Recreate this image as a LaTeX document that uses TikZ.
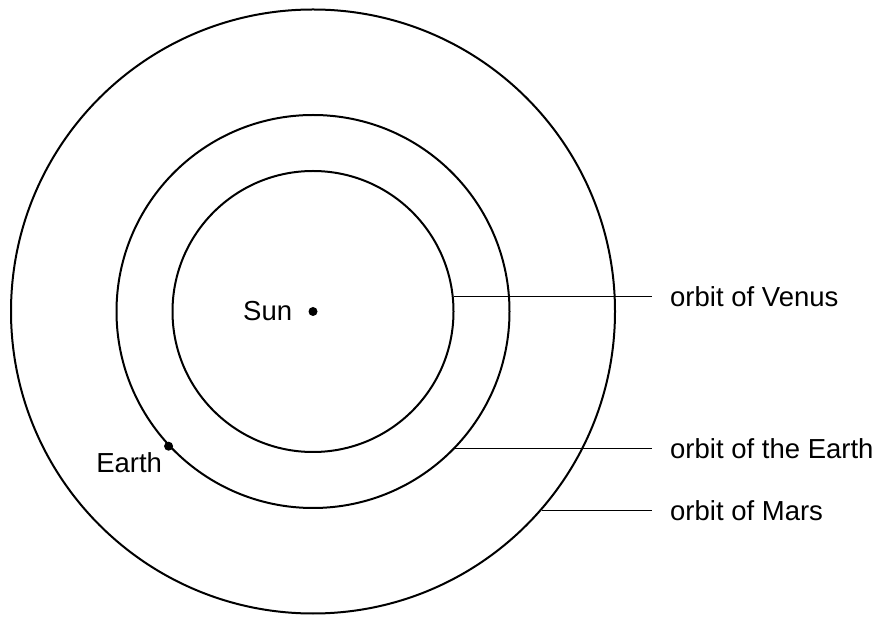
\documentclass[tikz,border=0pt]{standalone}
\usepackage{fontspec}
\setmainfont{Liberation Sans}
\usetikzlibrary{positioning}

\begin{document}
\begin{tikzpicture}[x=1pt, y=1pt,
                orbit/.style={circle, draw, line width=2pt, inner sep=0pt},
                dot/.style={circle, fill, inner sep=0pt, minimum size=9pt},
                txt/.style={inner sep=0pt, font=\fontsize{27.5}{32}\selectfont},
                lbl/.style={anchor=west, inner xsep=18pt, inner ysep=0pt, font=\fontsize{27.5}{32}\selectfont},
                leader/.style={line width=1.1pt}
            ]
            \useasboundingbox (0,0) rectangle (889,616);

            % Sun
            \node[dot] (sun) at (313, 304.5) {};
            \node[txt, left=16pt of sun] (sunlbl) {Sun};

            % Orbits
            \node[orbit, minimum size=281pt] (venus) at (sun) {};
            \node[orbit, minimum size=393pt] (earth) at (sun) {};
            \node[orbit, minimum size=604pt] (mars) at (sun) {};

            % Earth
            \node[dot] (edot) at (earth.223) {};
            \node[txt, below left=3pt and 3pt of edot] (elbl) {Earth};

            % Labels
            \node[lbl] (vlbl) at (venus.6.3 -| 652,0) {orbit of Venus};
            \node[lbl] (olbl) at (earth.-44 -| 652,0) {orbit of the Earth};
            \node[lbl] (mlbl) at (mars.-41.6 -| 652,0) {orbit of Mars};

            \draw[leader] (venus.6.3) -- (vlbl.west);
            \draw[leader] (earth.-44) -- (olbl.west);
            \draw[leader] (mars.-41.6) -- (mlbl.west);

        \end{tikzpicture}
\end{document}
